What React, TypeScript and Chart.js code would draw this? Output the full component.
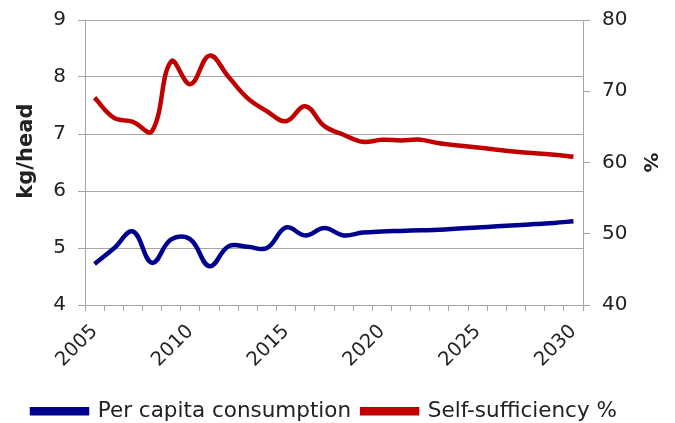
import React, { useEffect, useRef } from "react";
import { Chart, registerables } from "chart.js";

Chart.register(...registerables);

const years: string[] = [
  "2005", "2006", "2007", "2008", "2009", "2010", "2011", "2012", "2013",
  "2014", "2015", "2016", "2017", "2018", "2019", "2020", "2021", "2022",
  "2023", "2024", "2025", "2026", "2027", "2028", "2029", "2030",
];

const perCapita: number[] = [
  4.72, 4.99, 5.29, 4.74, 5.15, 5.15, 4.68, 5.03, 5.02, 5.0, 5.36, 5.22,
  5.35, 5.22, 5.27, 5.29, 5.3, 5.31, 5.32, 5.34, 5.36, 5.38, 5.4, 5.42,
  5.44, 5.47,
];

const selfSufficiency: number[] = [
  69.1, 66.3, 65.7, 64.4, 74.2, 71.0, 75.0, 72.0, 69.0, 67.2, 65.8, 67.9,
  65.1, 63.9, 62.9, 63.2, 63.1, 63.2, 62.7, 62.4, 62.1, 61.8, 61.5, 61.3,
  61.1, 60.8,
];

const leftTicks = { min: 4, max: 9, step: 1 };
const rightTicks = { min: 40, max: 80, step: 10 };
const leftTitle = "kg/head";
const rightTitle = "%";

const FONT = "'DejaVu Sans', Verdana, sans-serif";
const GRID = "#a6a6a6";
const TEXT = "#222222";

// Draws the left axis title a little above the plot's middle, as in the reference
const leftTitlePlugin = {
  id: "leftTitle",
  afterDraw(chart: any) {
    const { ctx, chartArea } = chart;
    ctx.save();
    ctx.font = `bold 21px ${FONT}`;
    ctx.fillStyle = TEXT;
    ctx.textAlign = "center";
    ctx.textBaseline = "middle";
    const cy = chartArea.top + (chartArea.bottom - chartArea.top) * 0.46;
    ctx.translate(27, cy);
    ctx.rotate(-Math.PI / 2);
    ctx.fillText(leftTitle, 0, 0);
    ctx.restore();
  },
};

export default function App() {
  const ref = useRef<HTMLCanvasElement | null>(null);

  useEffect(() => {
    if (!ref.current) return;
    const chart = new Chart(ref.current, {
      type: "line",
      data: {
        labels: years,
        datasets: [
          {
            label: "Per capita consumption",
            data: perCapita,
            borderColor: "#00008f",
            backgroundColor: "#00008f",
            borderWidth: 4.5,
            pointRadius: 0,
            tension: 0.4,
            yAxisID: "y",
          },
          {
            label: "Self-sufficiency %",
            data: selfSufficiency,
            borderColor: "#c00000",
            backgroundColor: "#c00000",
            borderWidth: 4.5,
            pointRadius: 0,
            tension: 0.4,
            yAxisID: "y1",
          },
        ],
      },
      plugins: [leftTitlePlugin],
      options: {
        animation: false,
        responsive: false,
        maintainAspectRatio: false,
        layout: { padding: { top: 11, left: 21, right: 4, bottom: -9 } },
        plugins: {
          tooltip: { enabled: false },
          legend: {
            position: "bottom",
            align: "start",
            labels: {
              boxWidth: 55,
              boxHeight: 4,
              padding: 11,
              color: TEXT,
              font: { family: FONT, size: 21.5 },
            },
          },
        },
        scales: {
          x: {
            offset: true,
            grid: {
              display: true,
              drawOnChartArea: false,
              drawTicks: true,
              tickLength: 6,
              color: GRID,
              offset: true,
            },
            border: { display: true, color: GRID },
            ticks: {
              autoSkip: false,
              maxRotation: 45,
              minRotation: 45,
              color: TEXT,
              padding: 9,
              font: { family: FONT, size: 19.5 },
              callback: (_v: any, i: number) => (i % 5 === 0 ? years[i] : ""),
            },
            afterFit: (s: any) => {
              s.height = 84.5;
            },
          },
          y: {
            position: "left",
            min: leftTicks.min,
            max: leftTicks.max,
            ticks: {
              stepSize: leftTicks.step,
              color: TEXT,
              padding: 12,
              font: { family: FONT, size: 20, lineHeight: 0.8 },
            },
            grid: { color: GRID, tickLength: 7 },
            border: { display: true, color: GRID },
            afterFit: (s: any) => {
              s.width = 64;
            },
          },
          y1: {
            position: "right",
            min: rightTicks.min,
            max: rightTicks.max,
            ticks: {
              stepSize: rightTicks.step,
              color: TEXT,
              padding: 12,
              font: { family: FONT, size: 20, lineHeight: 0.8 },
            },
            grid: {
              display: true,
              drawOnChartArea: false,
              tickLength: 7,
              color: GRID,
            },
            border: { display: true, color: GRID },
            title: {
              display: true,
              text: rightTitle,
              color: TEXT,
              font: { family: FONT, size: 20, weight: "bold" },
              padding: { top: 10, bottom: 0 },
            },
            afterFit: (s: any) => {
              s.width = 88;
            },
          },
        },
      },
    });
    return () => chart.destroy();
  }, []);

  return (
    <div style={{ position: "absolute", left: 0, top: 0, width: 675, height: 423 }}>
      <canvas ref={ref} width={675} height={423} style={{ display: "block" }} />
    </div>
  );
}
